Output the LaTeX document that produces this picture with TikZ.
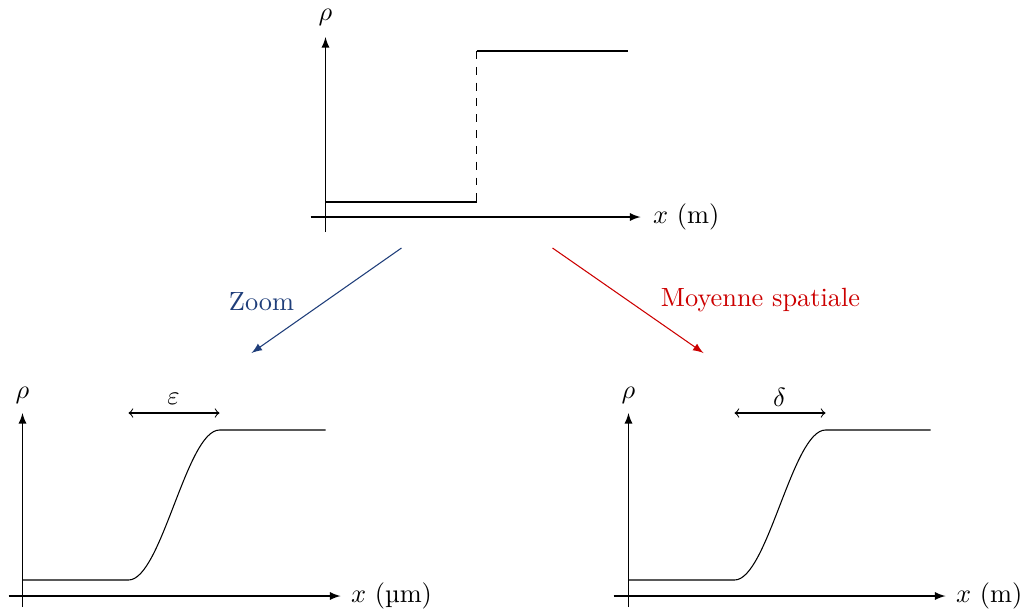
\documentclass[tikz,border=0pt]{standalone}
\usetikzlibrary{arrows}
\definecolor{zoomblue}{RGB}{31,62,122}
\definecolor{moyred}{RGB}{204,0,0}
\begin{document}
\begin{tikzpicture}[x=0.01333cm,y=-0.01333cm,
  axis/.style={-latex},
  curve/.style={line width=0.4pt},
  lbl/.style={inner sep=0pt},
  widtharrow/.style={<->},
  transf/.style={-latex}]
\useasboundingbox (0,0) rectangle (1022,609);
\begin{scope}[shift={(0.5,0)}]
% ---------- top plot ----------
\coordinate (tyb) at (325,232); \coordinate (tyt) at (325,37);
\coordinate (txl) at (310,217); \coordinate (txr) at (640,217);
\draw[axis] (tyb) -- (tyt);
\draw[axis] (txl) -- (txr);
\node[lbl] (trho) at (325,17) {$\rho$};
\node[lbl,anchor=west] (tx) at (652,217) {$x$ (m)};
\coordinate (t0) at (325,202); \coordinate (t1) at (476,202);
\coordinate (t2) at (476,51); \coordinate (t3) at (627,51);
\draw[curve] (t0) -- (t1);
\draw[curve,dashed] (t2) -- (t1);
\draw[curve] (t2) -- (t3);
% ---------- transitions ----------
\coordinate (za) at (401,248); \coordinate (zb) at (251,353);
\coordinate (ma) at (552,248); \coordinate (mb) at (703,353);
\draw[transf,zoomblue] (za) -- (zb);
\draw[transf,moyred] (ma) -- (mb);
\node[lbl,text=zoomblue] (zoom) at (261,302) {Zoom};
\node[lbl,text=moyred] (moy) at (760,300) {Moyenne spatiale};
% ---------- bottom left ----------
\coordinate (lyb) at (22,607); \coordinate (lyt) at (22,413);
\coordinate (lxl) at (8,596); \coordinate (lxr) at (340,596);
\draw[axis] (lyb) -- (lyt);
\draw[axis] (lxl) -- (lxr);
\node[lbl] (lrho) at (22,395) {$\rho$};
\node[lbl,anchor=west] (lx) at (350,596) {$x$ (µm)};
\coordinate (l0) at (22,580); \coordinate (l1) at (128,580);
\coordinate (l2) at (219,430); \coordinate (l3) at (325,430);
\draw[curve] (l0) -- (l1) .. controls (161,580) and (186,430) .. (l2) -- (l3);
\coordinate (lea) at (128,413); \coordinate (leb) at (219,413);
\draw[widtharrow] (lea) -- (leb);
\node[lbl] (eps) at (173,399) {$\varepsilon$};
% ---------- bottom right ----------
\coordinate (ryb) at (628,607); \coordinate (ryt) at (628,413);
\coordinate (rxl) at (613,596); \coordinate (rxr) at (945,596);
\draw[axis] (ryb) -- (ryt);
\draw[axis] (rxl) -- (rxr);
\node[lbl] (rrho) at (628,395) {$\rho$};
\node[lbl,anchor=west] (rx) at (955,596) {$x$ (m)};
\coordinate (r0) at (628,580); \coordinate (r1) at (734,580);
\coordinate (r2) at (825,430); \coordinate (r3) at (930,430);
\draw[curve] (r0) -- (r1) .. controls (767,580) and (792,430) .. (r2) -- (r3);
\coordinate (rda) at (734,413); \coordinate (rdb) at (825,413);
\draw[widtharrow] (rda) -- (rdb);
\node[lbl] (del) at (779,397) {$\delta$};
\end{scope}
\end{tikzpicture}
\end{document}
